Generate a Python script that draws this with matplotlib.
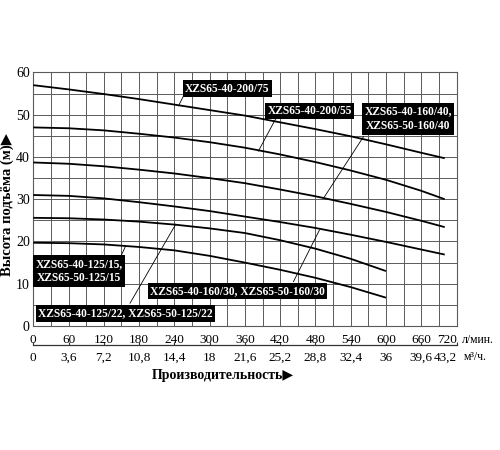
import matplotlib
matplotlib.use("Agg")
import matplotlib.pyplot as plt
from matplotlib.ticker import MultipleLocator, FuncFormatter

plt.rcParams['font.family'] = ['Liberation Serif', 'DejaVu Sans']

# ---- data (flow in l/min, head in m) ----
q_long = [0, 60, 120, 180, 240, 300, 360, 420, 480, 540, 600, 660, 700]
q_short = [0, 60, 120, 180, 240, 300, 360, 420, 480, 540, 600]

h_200_75 = [57.0, 56.0, 54.9, 53.7, 52.4, 51.1, 49.8, 48.2, 46.6, 44.9, 43.0, 41.0, 39.7]
h_200_55 = [47.0, 46.8, 46.3, 45.5, 44.6, 43.5, 42.2, 40.6, 38.8, 36.8, 34.6, 32.0, 30.0]
h_160_40 = [38.7, 38.4, 37.8, 37.0, 36.1, 35.0, 33.8, 32.3, 30.7, 28.9, 27.0, 24.9, 23.4]
h_160_30 = [31.0, 30.8, 30.2, 29.3, 28.3, 27.2, 25.9, 24.6, 23.2, 21.6, 19.9, 18.1, 16.9]
h_125_22 = [25.6, 25.5, 25.2, 24.7, 24.0, 23.1, 22.0, 20.3, 18.3, 15.9, 13.0]
h_125_15 = [19.7, 19.6, 19.3, 18.7, 17.9, 16.6, 15.0, 13.3, 11.4, 9.2, 6.7]

labels = [
    "XZS65-40-200/75",
    "XZS65-40-200/55",
    "XZS65-40-160/40,\nXZS65-50-160/40",
    "XZS65-40-160/30, XZS65-50-160/30",
    "XZS65-40-125/22, XZS65-50-125/22",
    "XZS65-40-125/15,\nXZS65-50-125/15",
]

x_ticks_lpm = [0, 60, 120, 180, 240, 300, 360, 420, 480, 540, 600, 660, 720]
x_ticks_m3h = [0, 3.6, 7.2, 10.8, 14.4, 18, 21.6, 25.2, 28.8, 32.4, 36, 39.6, 43.2]
y_ticks = [0, 10, 20, 30, 40, 50, 60]

# label box centers and leader lines (data coords)
label_pos = [(330, 56.2), (470, 50.9), (638, 49.0), (347, 8.3), (157, 2.95), (78, 13.0)]
leaders = [
    (255, 54.3, 247, 52.1),
    (413, 49.2, 383, 41.4),
    (561.7, 44.8, 493.6, 30.2),
    (442.6, 10.5, 486.8, 22.7),
    (164.6, 5.4, 242.4, 24.1),
    (150, 16.8, 157, 18.9),
]

fig = plt.figure(figsize=(5, 4.5), dpi=100)
ax = fig.add_axes([0.0666, 0.2756, 0.8464, 0.5633])

grid_c = '#5a5a5a'
curves = [(q_long, h_200_75), (q_long, h_200_55), (q_long, h_160_40),
          (q_long, h_160_30), (q_short, h_125_22), (q_short, h_125_15)]
for qq, hh in curves:
    ax.plot(qq, hh, color='black', lw=1.3, zorder=3, solid_capstyle='butt')

for (x0, y0, x1, y1) in leaders:
    ax.plot([x0, x1], [y0, y1], color='black', lw=0.6, zorder=4)

for (cx, cy), txt in zip(label_pos, labels):
    ax.text(cx, cy, txt, ha='center', va='center', color='white',
            fontsize=8.3, fontweight='bold', linespacing=1.3, zorder=5,
            bbox=dict(boxstyle='square,pad=0.2', fc='black', ec='none'))

ax.set_xlim(0, 720)
ax.set_ylim(0, 60)
ax.set_xticks(x_ticks_lpm)
ax.set_yticks(y_ticks)
ax.xaxis.set_minor_locator(MultipleLocator(30))
ax.yaxis.set_minor_locator(MultipleLocator(5))
ax.grid(True, which='both', color=grid_c, lw=0.7, zorder=1)
ax.set_axisbelow(True)
ax.tick_params(which='both', length=0)
ax.tick_params(axis='x', pad=6, labelsize=9.5)
ax.tick_params(axis='y', pad=2.5, labelsize=10)
ax.xaxis.get_major_ticks()[-1].label1.set_horizontalalignment('right')
for s in ax.spines.values():
    s.set_color(grid_c)
    s.set_linewidth(0.8)

sec = ax.secondary_xaxis(-0.075, functions=(lambda v: v * 0.06, lambda v: v / 0.06))
sec.set_xticks(x_ticks_m3h)
sec.xaxis.set_major_formatter(FuncFormatter(lambda v, p: ('%g' % v).replace('.', ',')))
sec.tick_params(direction='in', length=2, width=0.8, pad=5, labelsize=9.5, color='#333333')
sec.xaxis.get_major_ticks()[-1].label1.set_horizontalalignment('right')
sec.spines['bottom'].set_color('#333333')
sec.spines['bottom'].set_linewidth(0.9)

fig.text(0.924, 1 - 340 / 450, "л/мин.", fontsize=8.5, ha='left', va='center')
fig.text(0.928, 1 - 357 / 450, "м³/ч.", fontsize=8.5, ha='left', va='center')
fig.text(0.446, 1 - 375 / 450, "Производительность▶", fontsize=10, fontweight='bold',
         ha='center', va='center')
fig.text(0.015, 1 - 205 / 450, "Высота подъёма (м)▶", fontsize=10.5, fontweight='bold',
         ha='center', va='center', rotation=90)

fig.savefig("out.png", dpi=100, facecolor='white')
